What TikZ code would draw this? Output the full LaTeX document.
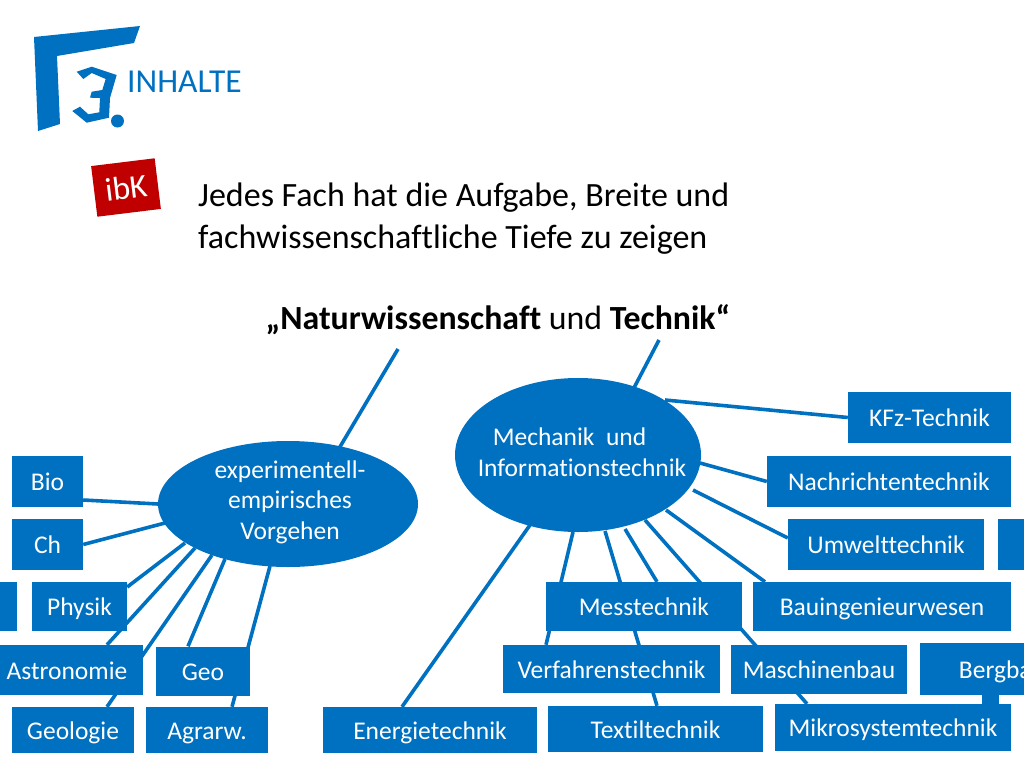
\documentclass[tikz,border=0pt]{standalone}
\usepackage{fontspec}
\setmainfont{Carlito}[Ligatures=NoCommon]
\usepackage{tikz}
\usetikzlibrary{shapes.geometric,backgrounds,calc}
\definecolor{fachblau}{HTML}{0070C0}
\definecolor{ibkrot}{HTML}{C00000}
\tikzset{
	fach/.style={fill=fachblau,text=white,font=\fontsize{25.5}{25.5}\selectfont,inner sep=0pt,text height=23pt,text depth=5pt},
	ovaltext/.style={text=white,font=\fontsize{25.5}{30.5}\selectfont,inner sep=0pt},
	oval/.style={ellipse,fill=fachblau,inner sep=0pt},
	strich/.style={draw=fachblau,line width=3.6pt},
	zeile/.style={font=\fontsize{34}{42}\selectfont,align=left,inner sep=0pt,anchor=west}
}
\begin{document}
\begin{tikzpicture}[x=1pt,y=-1pt]
\useasboundingbox (0,0) rectangle (1024,768);
\fill[fachblau] (34,37) -- (140,26) -- (134,43) -- (57,56) -- (60,124) -- (38,131) -- cycle;
\fill[fachblau] (76.7,71.7) -- (91.7,66.7) -- (116.7,75) -- (110,98) -- (109,117.7) -- (86.7,122.7) -- (72.3,111) -- (80,106.7) -- (88.3,114.3) -- (99.3,112.3) -- (100,98) -- (90,97.7) -- (91.7,91.7) -- (102.3,90) -- (105.7,79) -- (91.7,73) -- (83.3,79) -- cycle;
\fill[fachblau] (117.5,121) circle (6.5);
\node[text=fachblau,font=\fontsize{33.5}{33.5}\selectfont,inner sep=0pt,anchor=west] (inhalte) at (127,82) {INHALTE};
\node[fill=ibkrot,text=white,rotate=7,minimum width=64,minimum height=51,inner sep=0pt,font=\fontsize{33}{33}\selectfont] (ibk) at (126,187.5) {ibK};
\node[zeile] (aufgabe) at (198,219) {Jedes Fach hat die Aufgabe, Breite und\\fachwissenschaftliche Tiefe zu zeigen};
\node[font=\fontsize{33.8}{34}\selectfont,inner sep=0pt] (titel) at (498,320) {\textbf{„Naturwissenschaft} und \textbf{Technik“}};
% ovale
\node[oval,minimum width=260,minimum height=126] (exp) at (288,504) {};
\node[ovaltext,align=center] (exptext) at (290,502) {experimentell-\\empirisches\\Vorgehen};
\node[oval,minimum width=246,minimum height=154] (mech) at (578,455) {};
\node[ovaltext,align=left] (mechtext) at (582,452) {\hspace*{15pt}Mechanik\ \ und\\Informationstechnik};
% links
\node[fach,minimum width=71,minimum height=51] (bio) at (47.5,481.5) {Bio};
\node[fach,minimum width=71,minimum height=51] (ch) at (47.5,544.5) {Ch};
\node[fach,minimum width=60,minimum height=49] (rest) at (-13,606.5) {};
\node[fach,minimum width=95,minimum height=49] (physik) at (79.5,606.5) {Physik};
\node[fach,minimum width=152,minimum height=50] (astro) at (67,670) {Astronomie};
\node[fach,minimum width=94,minimum height=49] (geo) at (203,671) {Geo};
\node[fach,minimum width=122,minimum height=46] (geologie) at (73,730) {Geologie};
\node[fach,minimum width=122,minimum height=46] (agrar) at (207,730) {Agrarw.};
% rechts
\node[fach,minimum width=163,minimum height=51] (kfz) at (929.5,417.5) {KFz-Technik};
\node[fach,minimum width=244,minimum height=51] (nach) at (889,481.5) {Nachrichtentechnik};
\node[fach,minimum width=196,minimum height=51] (umwelt) at (886,544.5) {Umwelttechnik};
\node[fach,minimum width=60,minimum height=51] (rest2) at (1028,544.5) {};
\node[fach,minimum width=196,minimum height=49] (mess) at (644,606.5) {Messtechnik};
\node[fach,minimum width=258,minimum height=49] (bau) at (882,606.5) {Bauingenieurwesen};
\node[fach,minimum width=217,minimum height=48] (verf) at (611.5,669) {Verfahrenstechnik};
\node[fach,minimum width=176,minimum height=49] (masch) at (819,669.5) {Maschinenbau};
\node[fach,minimum width=164,minimum height=51.5] (berg) at (1002,669.2) {Bergbau};
\node[fach,minimum width=214,minimum height=46] (energie) at (430,730) {Energietechnik};
\node[fach,minimum width=215,minimum height=46] (textil) at (655.5,729) {Textiltechnik};
\node[fach,minimum width=236,minimum height=47] (mikro) at (893,727.5) {Mikrosystemtechnik};
\coordinate (titelL) at (398,349);
\coordinate (titelR) at (659,340);
\begin{pgfonlayer}{background}
\draw[strich] (titelL) -- ($(exp.north)+(52,6)$);
\draw[strich] (titelR) -- ($(mech.north)+(56,10)$);
\draw[strich] (158,504) -- ($(bio.east)+(0,18.5)$);
\draw[strich] (165,523) -- (ch.east);
\draw[strich] (185,543) -- ($(physik.east)+(0,-19.5)$);
\draw[strich] (195,548) -- ($(astro.north)+(40,0)$);
\draw[strich] (212,555) -- ($(geologie.north)+(34,0)$);
\draw[strich] (225,559) -- ($(geo.north)+(-15,0)$);
\draw[strich] (270,566) -- ($(agrar.north)+(25,0)$);
\draw[strich] (665,400) -- (kfz.west);
\draw[strich] (700,463) -- (nach.west);
\draw[strich] (693,490) -- ($(umwelt.west)+(0,-6.5)$);
\draw[strich] (666,510) -- ($(bau.north)+(-117,0)$);
\draw[strich] (645,520) -- ($(mikro.north)+(-86,0)$);
\draw[strich] (625,529) -- ($(mess.north)+(13,0)$);
\draw[strich] (605,531) -- ($(textil.north)+(1.5,0)$);
\draw[strich] (573,532) -- ($(verf.north)+(-65.5,0)$);
\draw[strich] (530,525) -- ($(energie.north)+(-28,0)$);
\draw[fachblau,line width=17pt] ($(berg.south)+(-11.5,-2)$) -- ($(mikro.north)+(97.5,2)$);
\end{pgfonlayer}
\end{tikzpicture}
\end{document}
